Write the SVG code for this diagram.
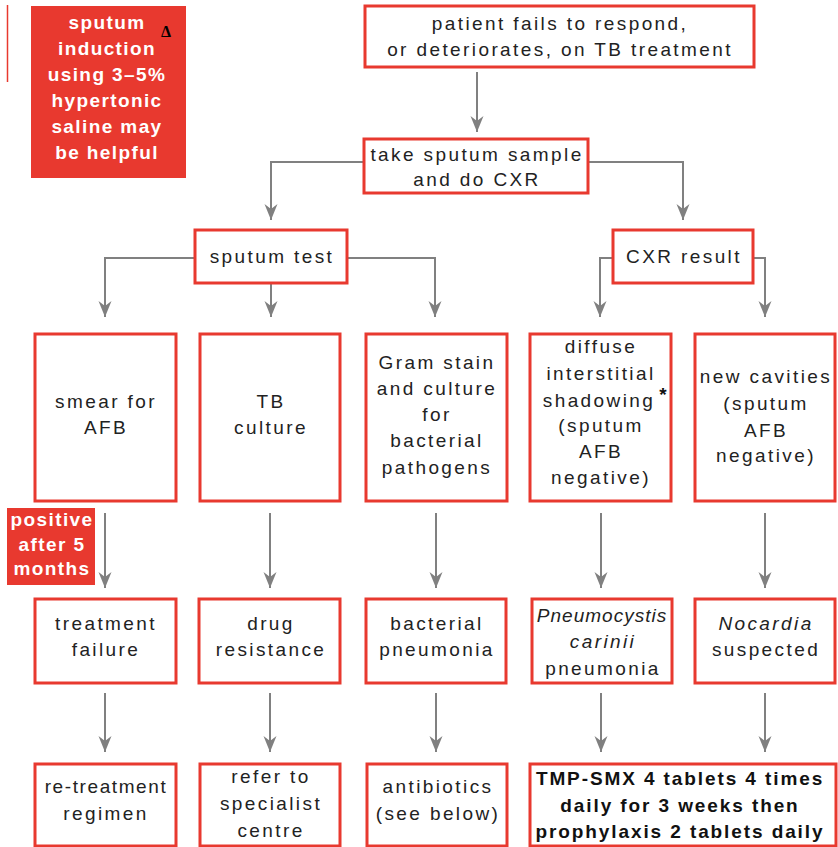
<svg xmlns="http://www.w3.org/2000/svg" width="838" height="847" viewBox="0 0 838 847">
<style>
.box{fill:#fff;stroke:#e8392f;stroke-width:3}
.note{fill:#e8392f}
.t{font-family:"Liberation Sans",Arial,sans-serif;font-size:19px;fill:#222;text-anchor:middle;letter-spacing:2.4px}
.w{font-family:"Liberation Sans",Arial,sans-serif;font-size:19px;font-weight:bold;fill:#fff;text-anchor:middle;letter-spacing:1.4px}
.b{font-family:"Liberation Sans",Arial,sans-serif;font-size:19px;font-weight:bold;fill:#111;text-anchor:middle;letter-spacing:1.9px}
.i{font-style:italic}
.c{fill:none;stroke:#808080;stroke-width:2;marker-end:url(#ah)}
</style>
<defs>
<marker id="ah" markerUnits="userSpaceOnUse" viewBox="-16 -8 17 16" refX="0" refY="0" markerWidth="17" markerHeight="16" orient="auto">
<path d="M0,0 L-16,-6.5 L-11,0 L-16,6.5 Z" fill="#808080"/>
</marker>
</defs>
<rect x="0" y="0" width="838" height="847" fill="#fff"/>
<line x1="7.5" y1="5" x2="7.5" y2="82" stroke="#e8392f" stroke-width="1.5"/>

<g id="connectors">
<path class="c" d="M477,72 V132"/>
<path class="c" d="M364,162 H271 V220"/>
<path class="c" d="M588,162 H683 V220"/>
<path class="c" d="M195,258 H105 V317"/>
<path class="c" d="M271,283 V317"/>
<path class="c" d="M347,258 H435 V317"/>
<path class="c" d="M613,258 H600 V317"/>
<path class="c" d="M753,258 H765 V317"/>
<path class="c" d="M105,513 V588"/>
<path class="c" d="M270,513 V588"/>
<path class="c" d="M436,513 V588"/>
<path class="c" d="M601,513 V588"/>
<path class="c" d="M765,513 V588"/>
<path class="c" d="M105,693 V752"/>
<path class="c" d="M270,693 V752"/>
<path class="c" d="M436,693 V752"/>
<path class="c" d="M601,693 V752"/>
<path class="c" d="M765,693 V752"/>
</g>

<g id="note-induction">
<rect class="note" x="31" y="6" width="155" height="172"/>
<text class="w" x="107" y="29">sputum</text>
<text class="w" x="107" y="55">induction</text>
<text class="w" x="107" y="81">using 3–5%</text>
<text class="w" x="107" y="107">hypertonic</text>
<text class="w" x="107" y="133">saline may</text>
<text class="w" x="107" y="159">be helpful</text>
<text x="166" y="37" font-family="Liberation Serif,serif" font-size="16" font-weight="bold" fill="#000" text-anchor="middle">Δ</text>
</g>

<g id="n-start">
<rect class="box" x="365" y="6" width="389" height="61"/>
<text class="t" x="560" y="30">patient fails to respond,</text>
<text class="t" x="560" y="56">or deteriorates, on TB treatment</text>
</g>

<g id="n-sample">
<rect class="box" x="364" y="139" width="224" height="54"/>
<text class="t" x="477" y="161">take sputum sample</text>
<text class="t" x="477" y="186">and do CXR</text>
</g>

<g id="n-sputum-test">
<rect class="box" x="195" y="230" width="152" height="53"/>
<text class="t" x="272" y="263">sputum test</text>
</g>

<g id="n-cxr-result">
<rect class="box" x="613" y="230" width="140" height="53"/>
<text class="t" x="684" y="263">CXR result</text>
</g>

<g id="n-smear">
<rect class="box" x="35" y="334" width="141" height="167"/>
<text class="t" x="106" y="408">smear for</text>
<text class="t" x="106" y="434">AFB</text>
</g>

<g id="n-tb-culture">
<rect class="box" x="200" y="334" width="140" height="167"/>
<text class="t" x="271" y="408">TB</text>
<text class="t" x="271" y="434">culture</text>
</g>

<g id="n-gram">
<rect class="box" x="366" y="334" width="141" height="167"/>
<text class="t" x="437" y="369">Gram stain</text>
<text class="t" x="437" y="395">and culture</text>
<text class="t" x="437" y="421">for</text>
<text class="t" x="437" y="447">bacterial</text>
<text class="t" x="437" y="474">pathogens</text>
</g>

<g id="n-diffuse">
<rect class="box" x="530" y="334" width="141" height="167"/>
<text class="t" x="601" y="353">diffuse</text>
<text class="t" x="601" y="380">interstitial</text>
<text class="t" x="599" y="407">shadowing</text>
<text x="663" y="401" font-family="Liberation Sans,Arial,sans-serif" font-size="19" font-weight="bold" fill="#111" text-anchor="middle">*</text>
<text class="t" x="601" y="432">(sputum</text>
<text class="t" x="601" y="458">AFB</text>
<text class="t" x="601" y="484">negative)</text>
</g>

<g id="n-cavities">
<rect class="box" x="695" y="334" width="140" height="167"/>
<text class="t" x="766" y="383">new cavities</text>
<text class="t" x="766" y="410">(sputum</text>
<text class="t" x="766" y="437">AFB</text>
<text class="t" x="766" y="462">negative)</text>
</g>

<g id="note-positive">
<rect class="note" x="7" y="508" width="88" height="77"/>
<text class="w" x="52" y="526">positive</text>
<text class="w" x="52" y="551">after 5</text>
<text class="w" x="52" y="575">months</text>
</g>

<g id="n-failure">
<rect class="box" x="35" y="599" width="141" height="84"/>
<text class="t" x="106" y="630">treatment</text>
<text class="t" x="106" y="656">failure</text>
</g>

<g id="n-resistance">
<rect class="box" x="199" y="599" width="141" height="84"/>
<text class="t" x="271" y="630">drug</text>
<text class="t" x="271" y="656">resistance</text>
</g>

<g id="n-bact-pneumonia">
<rect class="box" x="366" y="599" width="140" height="84"/>
<text class="t" x="437" y="630">bacterial</text>
<text class="t" x="437" y="656">pneumonia</text>
</g>

<g id="n-pcp">
<rect class="box" x="532" y="599" width="140" height="84"/>
<text class="t i" x="602" y="622" style="letter-spacing:1px">Pneumocystis</text>
<text class="t i" x="603" y="648">carinii</text>
<text class="t" x="603" y="675">pneumonia</text>
</g>

<g id="n-nocardia">
<rect class="box" x="695" y="599" width="140" height="84"/>
<text class="t i" x="766" y="630">Nocardia</text>
<text class="t" x="766" y="656">suspected</text>
</g>

<g id="n-retreatment">
<rect class="box" x="35" y="764" width="141" height="82"/>
<text class="t" x="106" y="793" style="letter-spacing:1.6px">re-treatment</text>
<text class="t" x="106" y="820">regimen</text>
</g>

<g id="n-refer">
<rect class="box" x="200" y="764" width="140" height="82"/>
<text class="t" x="271" y="783">refer to</text>
<text class="t" x="271" y="810">specialist</text>
<text class="t" x="271" y="837">centre</text>
</g>

<g id="n-antibiotics">
<rect class="box" x="367" y="764" width="140" height="82"/>
<text class="t" x="438" y="793">antibiotics</text>
<text class="t" x="438" y="820">(see below)</text>
</g>

<g id="n-tmp-smx">
<rect class="box" x="530" y="764" width="306" height="82"/>
<text class="b" x="680" y="785">TMP-SMX 4 tablets 4 times</text>
<text class="b" x="680" y="812">daily for 3 weeks then</text>
<text class="b" x="680" y="838">prophylaxis 2 tablets daily</text>
</g>
</svg>
